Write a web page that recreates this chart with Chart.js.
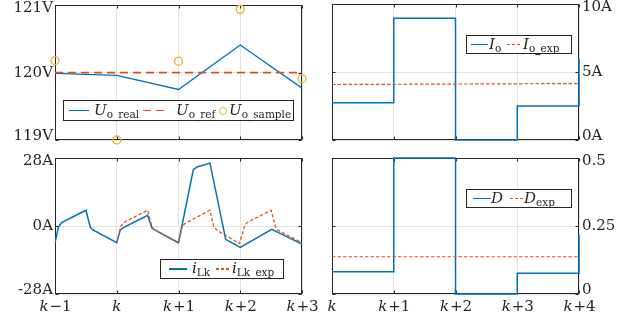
<!DOCTYPE html>
<html>
<head>
<meta charset="utf-8">
<script src="https://cdn.jsdelivr.net/npm/chart.js@4.4.0/dist/chart.umd.min.js"></script>
<style>
  body { margin: 0; background: #fff; }
  #wrap { position: relative; width: 638px; height: 323px; overflow: hidden; }
  #wrap canvas { position: absolute; left: 0; top: 0; }
  .lg { position: absolute; box-sizing: border-box; border: 1px solid #262626; background: #fff;
        font-family: 'DejaVu Serif', serif; font-size: 15px; color: #262626; white-space: nowrap; }
  .lg > span { position: absolute; }
  .lg .t { top: 50%; transform: translateY(-58%); line-height: 1.2; }
  .lg i { font-style: italic; }
  .lg sub { font-size: 10.5px; position: relative; top: 3px; vertical-align: baseline; font-style: normal; }
  .lg .u { font-weight: bold; }
  .ln { top: 50%; height: 1.5px; margin-top: -0.75px; background: #0072BD; }
  .dsh1 { background: repeating-linear-gradient(to right, #D95319 0 8px, transparent 8px 13px); height: 1.6px; }
  .dsh2 { background: repeating-linear-gradient(to right, #D95319 0 3px, transparent 3px 5px); height: 1.3px; }
  .circ { top: 50%; width: 8px; height: 8px; margin-top: -4px; box-sizing: border-box; border: 1.2px solid #EDB120; border-radius: 50%; }
</style>
</head>
<body>
<div id="wrap">
  <canvas id="c1" width="638" height="323"></canvas>
  <canvas id="c2" width="638" height="323"></canvas>
  <canvas id="c3" width="638" height="323"></canvas>
  <canvas id="c4" width="638" height="323"></canvas>

  <div class="lg" style="left:63px;top:100px;width:231px;height:21px">
    <span class="ln" style="left:5px;width:20px"></span>
    <span class="t" style="left:30px"><i>U</i><sub>o<span class="u">_</span>real</sub></span>
    <span class="ln dsh1" style="left:79px;width:25px"></span>
    <span class="t" style="left:112px"><i>U</i><sub>o<span class="u">_</span>ref</sub></span>
    <span class="circ" style="left:155px"></span>
    <span class="t" style="left:165px"><i>U</i><sub>o<span class="u">_</span>sample</sub></span>
  </div>
  <div class="lg" style="left:466px;top:35px;width:106px;height:19px">
    <span class="ln" style="left:4px;width:17px"></span>
    <span class="t" style="left:22px"><i>I</i><sub>o</sub></span>
    <span class="ln dsh2" style="left:40px;width:15px"></span>
    <span class="t" style="left:56px"><i>I</i><sub>o<span class="u">_</span>exp</sub></span>
  </div>
  <div class="lg" style="left:160px;top:259px;width:124px;height:20px">
    <span class="ln" style="left:8px;width:18px"></span>
    <span class="t" style="left:31px"><i>i</i><sub>Lk</sub></span>
    <span class="ln dsh2" style="left:55px;width:13px"></span>
    <span class="t" style="left:71px"><i>i</i><sub>Lk<span class="u">_</span>exp</sub></span>
  </div>
  <div class="lg" style="left:466px;top:189px;width:106px;height:19px">
    <span class="ln" style="left:6px;width:18px"></span>
    <span class="t" style="left:24px"><i>D</i></span>
    <span class="ln dsh2" style="left:43px;width:13px"></span>
    <span class="t" style="left:57px"><i>D</i><sub>exp</sub></span>
  </div>
</div>

<script>
// x positions are in sample periods, 0 = first tick of each panel
var xTicksLeft = ['k\u22121', 'k', 'k+1', 'k+2', 'k+3'];
var xTicksRight = ['k', 'k+1', 'k+2', 'k+3', 'k+4'];

// output voltage
var uT = [0, 1, 2, 3, 4];
var uoReal = [119.99, 119.96, 119.75, 120.41, 119.77];
var uoRef = [120, 120, 120, 120, 120];
var uoSample = [120.18, 119.0, 120.17, 120.94, 119.91];
var uTicks = ['119V', '120V', '121V'];

// output current
var ioT = [0, 1, 2, 3, 4];
var io = [2.74, 8.95, 0, 2.5, 6.0];
var ioExpT = [0, 4];
var ioExp = [4.08, 4.15];
var ioTicks = ['0A', '5A', '10A'];

// inductor current
var iLkT = [0, 0.054, 0.108, 0.5, 0.57, 0.6, 1.0, 1.057, 1.1, 1.5, 1.57, 1.6, 2.0, 2.24, 2.3, 2.51, 2.764, 3.0, 3.51, 4.0];
var iLk = [-6.9, -0.55, 1.4, 6.5, -0.3, -1.4, -6.9, -1.7, -0.8, 4.4, -0.8, -1.4, -6.9, 23.2, 24.3, 25.9, -5.5, -8.8, -1.4, -7.4];
var iLkExpT = [1.0, 1.065, 1.11, 1.5, 1.57, 1.6, 2.0, 2.065, 2.11, 2.51, 2.57, 2.63, 2.99, 3.07, 3.11, 3.5, 3.57, 3.6, 4.0];
var iLkExp = [-6.9, 0, 1.4, 6.5, -0.3, -1.4, -6.9, 0, 1.1, 6.5, -0.3, -1.9, -7.2, 0, 1.4, 6.5, -0.3, -1.6, -6.9];
var iLkTicks = ['-28A', '0A', '28A'];

// duty cycle
var dT = [0, 1, 2, 3, 4];
var d = [0.082, 0.5, 0, 0.076, 0.217];
var dExpT = [0, 4];
var dExp = [0.137, 0.137];
var dTicks = ['0', '0.25', '0.5'];

var serif = "'DejaVu Serif', serif";
var blue = '#0072BD', orange = '#D95319', yellow = '#EDB120';

function pts(xs, ys) {
    return xs.map(function(x, i) { return { x: x, y: ys[i] }; });
}

// box and inward ticks under the data, tick labels on top, the matlab way
var frame = {
    id: 'frame',
    beforeDatasetsDraw: function(chart) {
        var a = chart.chartArea, ctx = chart.ctx;
        var xs = chart.scales.x, ys = chart.scales.y;
        var L = Math.round(a.left) + 0.5, R = Math.round(a.right) - 0.5;
        var T = Math.round(a.top) + 0.5, B = Math.round(a.bottom) - 0.5;
        ctx.save();
        ctx.strokeStyle = '#262626';
        ctx.lineWidth = 1;
        ctx.strokeRect(L, T, R - L, B - T);
        ctx.beginPath();
        xs.ticks.forEach(function(t) {
            var px = Math.round(xs.getPixelForValue(t.value)) + 0.5;
            ctx.moveTo(px, T); ctx.lineTo(px, T + 3);
            ctx.moveTo(px, B); ctx.lineTo(px, B - 3);
        });
        ys.ticks.forEach(function(t) {
            var py = Math.round(ys.getPixelForValue(t.value)) + 0.5;
            ctx.moveTo(L, py); ctx.lineTo(L + 3, py);
            ctx.moveTo(R, py); ctx.lineTo(R - 3, py);
        });
        ctx.stroke();
        ctx.restore();
    },
    afterDraw: function(chart, args, o) {
        var a = chart.chartArea, ctx = chart.ctx;
        var xs = chart.scales.x, ys = chart.scales.y;
        ctx.save();
        ctx.fillStyle = '#262626';
        ctx.font = '15px ' + serif;
        ctx.textBaseline = 'middle';
        var n = ys.ticks.length;
        ys.ticks.forEach(function(t, i) {
            var py = ys.getPixelForValue(t.value);
            if (i === 0) py -= 4;
            if (i === n - 1) py += 3;
            if (o.ySide === 'right') {
                ctx.textAlign = 'left';
                ctx.fillText(o.yLabels[i], a.right + 3, py);
            } else {
                ctx.textAlign = 'right';
                ctx.fillText(o.yLabels[i], a.left - 2, py);
            }
        });

        if (o.xLabels) {
            ctx.textAlign = 'left';
            xs.ticks.forEach(function(t, i) {
                var s = o.xLabels[i];
                var head = s.charAt(0), rest = s.slice(1);
                ctx.font = 'italic 15px ' + serif;
                var w1 = ctx.measureText(head).width;
                ctx.font = '15px ' + serif;
                var w2 = ctx.measureText(rest).width;
                var x0 = xs.getPixelForValue(t.value) - (w1 + w2) / 2;
                var y0 = a.bottom + 13;
                ctx.font = 'italic 15px ' + serif;
                ctx.fillText(head, x0, y0);
                ctx.font = '15px ' + serif;
                ctx.fillText(rest, x0 + w1 + 1, y0);
            });
        }
        ctx.restore();
    }
};

function makeChart(id, datasets, pad, ymin, ymax, ystep, frameOpts) {
    var ctx = document.getElementById(id).getContext('2d');
    return new Chart(ctx, {
        type: 'line',
        data: { datasets: datasets },
        options: {
            responsive: false,
            animation: false,
            events: [],
            layout: { padding: pad },
            plugins: { legend: { display: false }, tooltip: { enabled: false }, frame: frameOpts },
            scales: {
                x: {
                    type: 'linear', min: 0, max: 4,
                    ticks: { stepSize: 1, display: false },
                    grid: { color: '#e3e3e3', drawTicks: false },
                    border: { display: false },
                    afterFit: function(s) { s.height = 0; }
                },
                y: {
                    type: 'linear', min: ymin, max: ymax,
                    ticks: { stepSize: ystep, display: false },
                    grid: { color: '#e3e3e3', drawTicks: false },
                    border: { display: false },
                    afterFit: function(s) { s.width = 0; }
                }
            }
        },
        plugins: [frame]
    });
}

makeChart('c1', [
    { data: pts(uT, uoReal), borderColor: blue, borderWidth: 1.3, pointRadius: 0, order: 3 },
    { data: pts(uT, uoRef), borderColor: orange, borderWidth: 1.6, borderDash: [8, 5], pointRadius: 0, order: 2 },
    { data: pts(uT, uoSample), showLine: false, pointRadius: 4, pointBorderColor: yellow,
      pointBackgroundColor: 'rgba(0,0,0,0)', pointBorderWidth: 1.3, clip: false, order: 1 }
], { left: 55, top: 4, right: 336, bottom: 183 }, 119, 121, 1,
   { yLabels: uTicks, ySide: 'left' });

makeChart('c2', [
    { data: pts(ioT, io), borderColor: blue, borderWidth: 1.5, pointRadius: 0, stepped: 'before', clip: 2, order: 2 },
    { data: pts(ioExpT, ioExp), borderColor: orange, borderWidth: 1.2, borderDash: [3.5, 2], pointRadius: 0, order: 1 }
], { left: 332, top: 4, right: 59, bottom: 183 }, 0, 10, 5,
   { yLabels: ioTicks, ySide: 'right' });

makeChart('c3', [
    { data: pts(iLkT, iLk), borderColor: blue, borderWidth: 1.5, pointRadius: 0, order: 2 },
    { data: pts(iLkExpT, iLkExp), borderColor: orange, borderWidth: 1.2, borderDash: [3.5, 2], pointRadius: 0, order: 1 }
], { left: 55, top: 158, right: 336, bottom: 29 }, -28, 28, 28,
   { yLabels: iLkTicks, ySide: 'left', xLabels: xTicksLeft });

makeChart('c4', [
    { data: pts(dT, d), borderColor: blue, borderWidth: 1.5, pointRadius: 0, stepped: 'before', clip: 2, order: 2 },
    { data: pts(dExpT, dExp), borderColor: orange, borderWidth: 1.2, borderDash: [3.5, 2], pointRadius: 0, order: 1 }
], { left: 332, top: 158, right: 59, bottom: 29 }, 0, 0.5, 0.25,
   { yLabels: dTicks, ySide: 'right', xLabels: xTicksRight });
</script>
</body>
</html>
